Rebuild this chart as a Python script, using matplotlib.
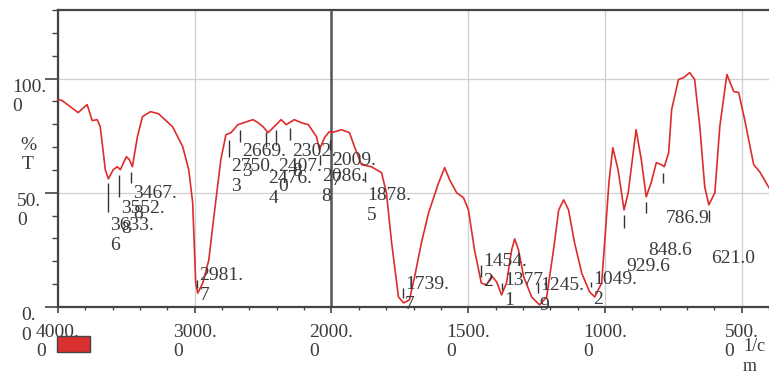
import numpy as np
import matplotlib
matplotlib.use("Agg")
import matplotlib.pyplot as plt
from matplotlib.patches import Rectangle

plt.rcParams['font.family'] = ['Liberation Serif', 'DejaVu Serif']

# spectrum (wavenumber 1/cm, %T)
wavenumber = [4000, 3971, 3853, 3787, 3750, 3713, 3691, 3654, 3632, 3596, 3566, 3544,
              3500, 3478, 3456, 3419, 3382, 3324, 3265, 3162, 3088, 3044, 3015, 2993,
              2978, 2941, 2897, 2860, 2809, 2772, 2735, 2684, 2640, 2574, 2537, 2500,
              2463, 2426, 2368, 2331, 2272, 2221, 2169, 2110, 2088, 2051, 2015, 2000,
              1963, 1934, 1916, 1890, 1854, 1817, 1799, 1780, 1755, 1736, 1715, 1696,
              1671, 1645, 1608, 1586, 1568, 1542, 1517, 1499, 1477, 1452, 1433, 1414,
              1396, 1378, 1360, 1341, 1330, 1316, 1297, 1268, 1239, 1213, 1188, 1169,
              1151, 1133, 1111, 1085, 1056, 1037, 1012, 1000, 985, 971, 952, 930,
              915, 886, 867, 849, 831, 812, 794, 783, 767, 756, 731, 712,
              690, 672, 653, 635, 620, 598, 580, 554, 529, 511, 489, 456,
              434, 400]
transmittance = [90.8, 90.4, 85.1, 88.6, 81.6, 82.0, 78.9, 60.1, 56.1, 60.1, 61.4, 60.1,
                 65.8, 64.5, 61.4, 74.6, 83.3, 85.5, 84.6, 78.9, 70.2, 60.1, 45.6, 10.5,
                 6.1, 10.5, 20.6, 39.5, 64.5, 75.4, 76.3, 79.8, 80.7, 82.0, 80.7, 78.9,
                 76.3, 78.5, 82.0, 79.8, 82.0, 80.7, 79.8, 74.6, 68.9, 74.1, 76.8, 76.3,
                 77.6, 76.3, 70.2, 62.3, 61.4, 58.8, 50.0, 28.1, 4.4, 1.8, 3.1, 13.2,
                 28.1, 41.2, 54.4, 61.0, 55.7, 50.0, 47.8, 42.5, 25.0, 10.5, 9.6, 13.6,
                 11.0, 5.3, 10.5, 25.0, 29.8, 25.0, 13.2, 4.4, 0.9, 4.4, 25.0, 42.5,
                 46.9, 42.5, 28.1, 14.9, 6.6, 4.4, 10.5, 30.0, 55.0, 69.7, 60.1, 42.5,
                 50.0, 77.6, 64.5, 48.2, 54.4, 63.2, 62.3, 61.4, 67.5, 86.4, 99.6, 100.4,
                 102.6, 99.6, 78.9, 52.6, 44.7, 50.0, 78.9, 101.8, 94.3, 93.9, 82.0, 62.3,
                 59.2, 52.2]

# peak picks
peak_wn = [3633.6, 3552.8, 3467.8, 2981.7, 2750.3, 2669.3, 2476.4, 2407.0, 2302.8,
           2086.8, 2009.7, 1878.5, 1739.7, 1454.2, 1377.1, 1245.9, 1049.2, 929.6,
           848.6, 786.9, 621.0]
peak_text = ["3633.\n6", "3552.\n8", "3467.\n8", "2981.\n7", "2750.\n3", "2669.\n3",
             "2476.\n4", "2407.\n0", "2302.\n8", "2086.\n8", "2009.\n7", "1878.\n5",
             "1739.\n7", "1454.\n2", "1377.\n1", "1245.\n9", "1049.\n2", "929.6",
             "848.6", "786.9", "621.0"]
# marker bar span and label height (in %T)
mark_hi = [54.4, 57.9, 59.2, 11.8, 73.2, 77.6, 76.8, 77.6, 78.5, 66.7, 73.2, 59.2,
           8.3, 18.4, 10.5, 11.0, 11.0, 40.4, 46.1, 58.8, 42.5]
mark_lo = [41.7, 48.2, 54.4, 8.3, 65.8, 72.4, 70.2, 71.1, 73.2, 62.3, 68.9, 54.8,
           3.9, 13.2, 7.5, 6.1, 8.8, 34.6, 41.2, 54.4, 37.3]
label_y = [35.1, 42.5, 49.1, 13.2, 61.0, 67.5, 55.7, 61.0, 67.5, 56.6, 63.6, 48.2,
           9.2, 19.3, 11.0, 8.8, 11.4, 17.1, 24.1, 38.2, 20.6]

x_ticks = [4000, 3000, 2000, 1500, 1000, 500]
x_ticklabels = ["4000.\n0", "3000.\n0", "2000.\n0", "1500.\n0", "1000.\n0", "500.\n0"]
y_ticks = [0, 50, 100]
y_ticklabels = ["0.\n0", "50.\n0", "100.\n0"]


# axis is 2x expanded below 2000 1/cm
def fwd(w):
    w = np.asarray(w, dtype=float)
    return np.where(w >= 2000, w, 2 * w - 2000)


def inv(p):
    p = np.asarray(p, dtype=float)
    return np.where(p >= 2000, p, (p + 2000) / 2)


txt_col = '#3a3a3a'
fs = 14

fig = plt.figure(figsize=(7.69, 3.79), dpi=100)
ax = fig.add_axes([58 / 769, 1 - 307 / 379, 711 / 769, 297 / 379])
ax.set_xscale('function', functions=(fwd, inv))
ax.set_xlim(4000, 400)
ax.set_ylim(0, 130)

ax.grid(True, color='#cfcfcf', lw=0.9)
ax.axvline(2000, color='#555555', lw=1.8, zorder=2)

ax.plot(wavenumber, transmittance, color='#dd2c2c', lw=1.2, zorder=3)

ax.vlines(peak_wn, mark_lo, mark_hi, color='#333333', lw=1.0, zorder=4)
for wn, t, yy in zip(peak_wn, peak_text, label_y):
    ax.annotate(t, xy=(wn, yy), xytext=(1.5, 7), textcoords='offset points',
                ha='left', va='top', fontsize=fs, color=txt_col, zorder=5)

minor_x = [w for w in range(3800, 2000, -200) if w != 3000] + \
          [w for w in range(1900, 399, -100) if w not in (1500, 1000, 500)]
ax.set_xticks(x_ticks, x_ticklabels, ha='center', va='top', multialignment='left',
              fontsize=fs, color=txt_col)
ax.set_xticks(minor_x, minor=True)
ax.set_yticks(y_ticks, y_ticklabels, ha='center', va='top', multialignment='left',
              fontsize=fs, color=txt_col)
ax.set_yticks([v for v in range(10, 131, 10) if v not in y_ticks], minor=True)

ax.tick_params(axis='y', which='major', direction='out', length=9.5, width=1.2,
               color='#444444', pad=11.5)
ax.tick_params(axis='y', which='minor', direction='out', length=4.5, width=1.0,
               color='#444444')
ax.tick_params(axis='x', which='major', direction='out', length=4, width=1.2,
               color='#444444', pad=8)
ax.tick_params(axis='x', which='minor', direction='out', length=2, width=1.0,
               color='#444444')

for side in ['top', 'left', 'bottom']:
    ax.spines[side].set_color('#444444')
    ax.spines[side].set_linewidth(1.6)
ax.spines['right'].set_visible(False)

fig.text(28 / 769, 1 - 155 / 379, "%\nT", ha='center', va='center', fontsize=fs,
         color=txt_col)
fig.text(743 / 769, 1 - 338 / 379, "1/c\nm", ha='left', va='top', fontsize=fs - 1,
         color=txt_col, multialignment='left')

fig.patches.append(Rectangle((57 / 769, 1 - 352 / 379), 33 / 769, 16 / 379,
                             transform=fig.transFigure, facecolor='#d93030',
                             edgecolor='#444444', lw=1.0))

fig.savefig('out.png', dpi=100)
